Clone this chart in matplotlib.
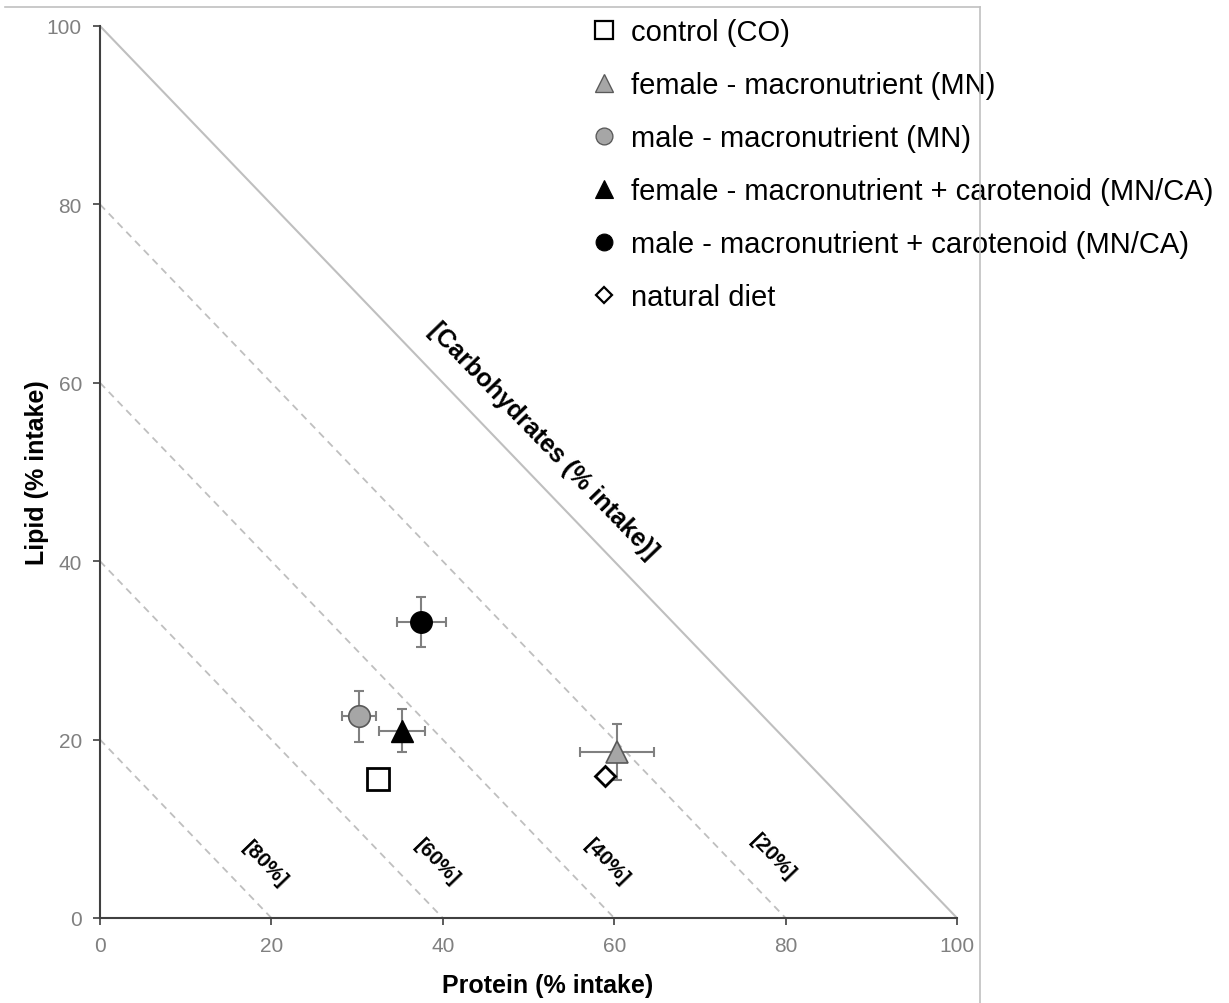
import matplotlib
matplotlib.use("Agg")
import matplotlib.pyplot as plt
from matplotlib.lines import Line2D

plt.rcParams['font.family'] = ['Liberation Sans', 'DejaVu Sans']

# groups, in legend order
labels = ['control (CO)',
          'female - macronutrient (MN)',
          'male - macronutrient (MN)',
          'female - macronutrient + carotenoid (MN/CA)',
          'male - macronutrient + carotenoid (MN/CA)',
          'natural diet']
protein = [32.4, 60.3, 30.2, 35.2, 37.5, 58.9]
lipid = [15.6, 18.6, 22.6, 21.0, 33.2, 15.9]
protein_err = [0, 4.3, 2.0, 2.7, 2.9, 0]
lipid_err = [0, 3.1, 2.9, 2.4, 2.8, 0]
carb_levels = [80, 60, 40, 20]
label_pos = [(19.3, 6.1), (39.3, 6.3), (59.2, 6.3), (78.5, 6.9)]

markers = ['s', '^', 'o', '^', 'o', 'D']
faces = ['white', '#a6a6a6', '#a6a6a6', 'black', 'black', 'white']
edges = ['black', '#595959', '#595959', 'black', 'black', 'black']
sizes = [16, 16, 15.5, 16, 15.5, 10.5]
edgew = [2.0, 1.2, 1.2, 1.0, 1.0, 2.0]

fig = plt.figure(figsize=(12.29, 10.04), dpi=100)
ax = fig.add_axes([100 / 1229, 85 / 1004, 857 / 1229, 892 / 1004])

# diet triangle lines
ax.plot([0, 100], [100, 0], color='#bfbfbf', lw=1.5, zorder=1)
for c in carb_levels:
    k = 100 - c
    ax.plot([0, k], [k, 0], color='#bfbfbf', lw=1.3, ls=(0, (4, 3)), zorder=1)
for c, (px, py) in zip(carb_levels, label_pos):
    ax.text(px, py, f'[{c}%]', rotation=-46, rotation_mode='anchor',
            ha='center', va='center', fontsize=15, fontweight='bold')
ax.text(51.7, 53.6, '[Carbohydrates (% intake)]', rotation=-46, rotation_mode='anchor',
        ha='center', va='center', fontsize=18, fontweight='bold')

handles = []
for i in range(len(labels)):
    if protein_err[i] or lipid_err[i]:
        ax.errorbar(protein[i], lipid[i], xerr=protein_err[i], yerr=lipid_err[i],
                    fmt='none', ecolor='#808080', elinewidth=1.5, capsize=3.6,
                    capthick=1.5, zorder=2)
    ax.plot(protein[i], lipid[i], marker=markers[i], ms=sizes[i], mfc=faces[i],
            mec=edges[i], mew=edgew[i], ls='none', zorder=3)
    handles.append(Line2D([], [], marker=markers[i], ls='none', mfc=faces[i],
                          mec=edges[i], mew=edgew[i] * 0.8,
                          ms=sizes[i] * 0.78, label=labels[i]))

ax.set_xlim(0, 100)
ax.set_ylim(0, 100)
ax.set_xticks(range(0, 101, 20))
ax.set_yticks(range(0, 101, 20))
ax.tick_params(direction='out', length=5, width=1.2, color='#404040',
               labelsize=15, labelcolor='#808080', pad=8)
for s in ['top', 'right']:
    ax.spines[s].set_visible(False)
for s in ['left', 'bottom']:
    ax.spines[s].set_color('#404040')
    ax.spines[s].set_linewidth(1.5)
ax.set_xlabel('Protein (% intake)', fontsize=18, fontweight='bold')
ax.set_ylabel('Lipid (% intake)', fontsize=18, fontweight='bold')
ax.xaxis.set_label_coords(0.522, -0.062)
ax.yaxis.set_label_coords(-0.06, 0.5)

ax.legend(handles=handles, loc='upper left', bbox_to_anchor=(589 / 1229, 1 - 19 / 1004),
          bbox_transform=fig.transFigure, frameon=False, fontsize=21,
          handlelength=1.0, handletextpad=0.45, labelspacing=0.86, borderpad=0,
          borderaxespad=0)

# outer frame of the original picture
fig.add_artist(Line2D([5 / 1229, 980 / 1229], [1 - 8 / 1004] * 2,
                      transform=fig.transFigure, color='#c0c0c0', lw=1.2))
fig.add_artist(Line2D([980 / 1229] * 2, [0, 1 - 8 / 1004],
                      transform=fig.transFigure, color='#c0c0c0', lw=1.2))

fig.savefig('out.png', dpi=100)
plt.close(fig)
